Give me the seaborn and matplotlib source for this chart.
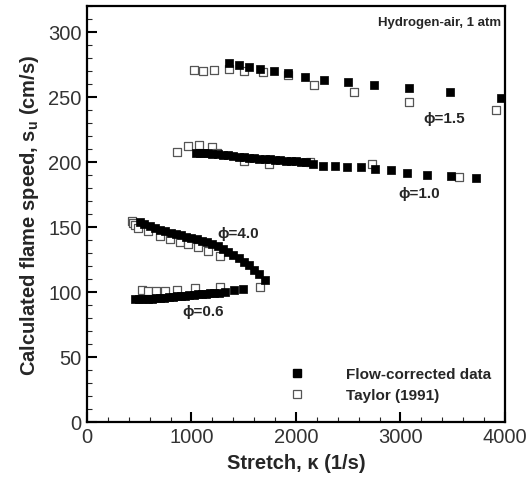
import numpy as np
import pandas as pd
import matplotlib
matplotlib.use("Agg")
import matplotlib.pyplot as plt
import seaborn as sns
from matplotlib.ticker import MultipleLocator
from matplotlib.lines import Line2D

# ---- data ----
flow_x_15 = [1361, 1450, 1549, 1657, 1788, 1928, 2084, 2269, 2495, 2750, 3081, 3470, 3967]
flow_y_15 = [276.1, 274.5, 273.3, 271.5, 270.0, 268.0, 265.0, 263.3, 261.7, 259.2, 257.1, 253.5, 249.0]
taylor_x_15 = [1026, 1112, 1220, 1358, 1498, 1683, 1922, 2177, 2556, 3081, 3917]
taylor_y_15 = [270.7, 270.2, 270.4, 271.2, 270.0, 269.4, 266.6, 259.4, 253.8, 245.9, 240.2]

flow_x_10 = [1040, 1080, 1120, 1160, 1200, 1250, 1300, 1350, 1400, 1450, 1500, 1550,
             1600, 1650, 1700, 1750, 1800, 1850, 1900, 1950, 2000, 2050, 2100,
             2164, 2260, 2371, 2489, 2626, 2753, 2912, 3062, 3253, 3486, 3725]
flow_y_10 = [207.0, 207.0, 206.8, 206.5, 206.2, 205.8, 205.3, 205.0, 204.5, 204.0, 203.6, 203.2,
             202.8, 202.5, 202.0, 201.8, 201.5, 201.2, 200.9, 200.6, 200.3, 200.0, 199.7,
             198.2, 197.1, 197.1, 196.3, 195.9, 194.6, 194.0, 191.5, 190.0, 188.9, 187.9]
taylor_x_10 = [857, 962, 1071, 1192, 1240, 1504, 1740, 2130, 2731, 3559]
taylor_y_10 = [207.4, 212.5, 213.2, 211.5, 207.0, 201.0, 198.4, 200.0, 198.6, 188.6]

flow_x_40 = [507, 550, 600, 650, 700, 750, 800, 850, 900, 950, 1000, 1050, 1100,
             1150, 1200, 1250, 1300, 1350, 1400, 1450, 1500, 1550, 1600, 1650, 1700]
flow_y_40 = [153.6, 152.0, 150.5, 149.0, 147.8, 146.7, 145.5, 144.6, 143.6, 142.5, 141.5, 140.5, 139.3,
             138.2, 137.0, 135.3, 133.3, 131.0, 128.6, 126.0, 123.3, 120.5, 117.0, 113.5, 109.5]
taylor_x_40 = [427, 440, 459, 490, 586, 698, 793, 889, 969, 1065, 1160, 1272, 1654]
taylor_y_40 = [154.8, 153.0, 151.5, 149.0, 147.1, 143.3, 140.7, 138.7, 136.9, 134.3, 131.7, 127.4, 103.6]

flow_x_06 = [460, 500, 540, 580, 620, 660, 700, 740, 780, 820, 860, 900, 940, 980,
             1020, 1060, 1100, 1140, 1180, 1220, 1260, 1319, 1405, 1494]
flow_y_06 = [94.5, 94.6, 94.7, 94.8, 94.9, 95.0, 95.3, 95.6, 95.9, 96.2, 96.5, 96.8, 97.1, 97.4,
             97.7, 98.0, 98.3, 98.6, 98.8, 99.0, 99.3, 99.7, 101.5, 102.3]
taylor_x_06 = [523, 586, 660, 746, 857, 1033, 1272]
taylor_y_06 = [101.8, 101.0, 101.0, 101.0, 101.8, 102.8, 103.6]

series_labels = ["\u03d5=1.5", "\u03d5=1.0", "\u03d5=4.0", "\u03d5=0.6"]
legend_labels = ["Flow-corrected data", "Taylor (1991)"]

flow = pd.DataFrame({
    "x": flow_x_15 + flow_x_10 + flow_x_40 + flow_x_06,
    "y": flow_y_15 + flow_y_10 + flow_y_40 + flow_y_06,
})
taylor = pd.DataFrame({
    "x": taylor_x_15 + taylor_x_10 + taylor_x_40 + taylor_x_06,
    "y": taylor_y_15 + taylor_y_10 + taylor_y_40 + taylor_y_06,
})

# ---- style ----
sns.set_style("ticks")
plt.rcParams["font.family"] = ["Liberation Sans", "DejaVu Sans"]
plt.rcParams["mathtext.fontset"] = "custom"
plt.rcParams["mathtext.rm"] = "Liberation Sans:bold"
plt.rcParams["mathtext.bf"] = "Liberation Sans:bold"
plt.rcParams["mathtext.it"] = "Liberation Sans:bold"

fig = plt.figure(figsize=(5.29, 4.85), dpi=100)
ax = fig.add_axes([0.1645, 0.128, 0.790, 0.858])

sns.scatterplot(data=taylor, x="x", y="y", ax=ax, marker="s", s=34,
                facecolor="white", edgecolor="#555555", linewidth=0.9, zorder=2)
sns.scatterplot(data=flow, x="x", y="y", ax=ax, marker="s", s=34,
                color="black", edgecolor="black", linewidth=0.5, zorder=3)

ax.set_xlim(0, 4000)
ax.set_ylim(0, 320)
ax.xaxis.set_major_locator(MultipleLocator(1000))
ax.xaxis.set_minor_locator(MultipleLocator(200))
ax.yaxis.set_major_locator(MultipleLocator(50))
ax.yaxis.set_minor_locator(MultipleLocator(10))
ax.tick_params(which="major", direction="in", length=7, width=1.5, labelsize=14.5,
               top=False, right=False, pad=4, colors="black", labelcolor="#333333")
ax.tick_params(which="minor", direction="in", length=3.5, width=0.8, top=False, right=False)
for sp in ax.spines.values():
    sp.set_linewidth(1.6)
    sp.set_visible(True)
    sp.set_color("black")

ax.set_xlabel("Stretch, \u03ba (1/s)", fontsize=14.5, fontweight="bold", labelpad=5)
ax.set_ylabel("Calculated flame speed, s$_{\\mathrm{u}}$ (cm/s)", fontsize=14.5,
              fontweight="bold", labelpad=5)

ax.text(0.99, 0.975, "Hydrogen-air, 1 atm", transform=ax.transAxes, ha="right", va="top",
        fontsize=9.5, fontweight="bold")

label_pos = [(3423, 234), (3184, 176), (1444, 145), (1109, 85)]
for lab, (lx, ly) in zip(series_labels, label_pos):
    ax.text(lx, ly, lab, ha="center", va="center", fontsize=11, fontweight="bold")

handles = [
    Line2D([], [], marker="s", linestyle="none", markersize=5.5, markerfacecolor="black",
           markeredgecolor="black"),
    Line2D([], [], marker="s", linestyle="none", markersize=5.5, markerfacecolor="white",
           markeredgecolor="#555555", markeredgewidth=0.9),
]
leg = ax.legend(handles, legend_labels, loc="lower right", bbox_to_anchor=(1.0, 0.015),
                frameon=False, prop={"weight": "bold", "size": 11}, handletextpad=2.2,
                labelspacing=0.45)

fig.savefig("out.png", dpi=100)
